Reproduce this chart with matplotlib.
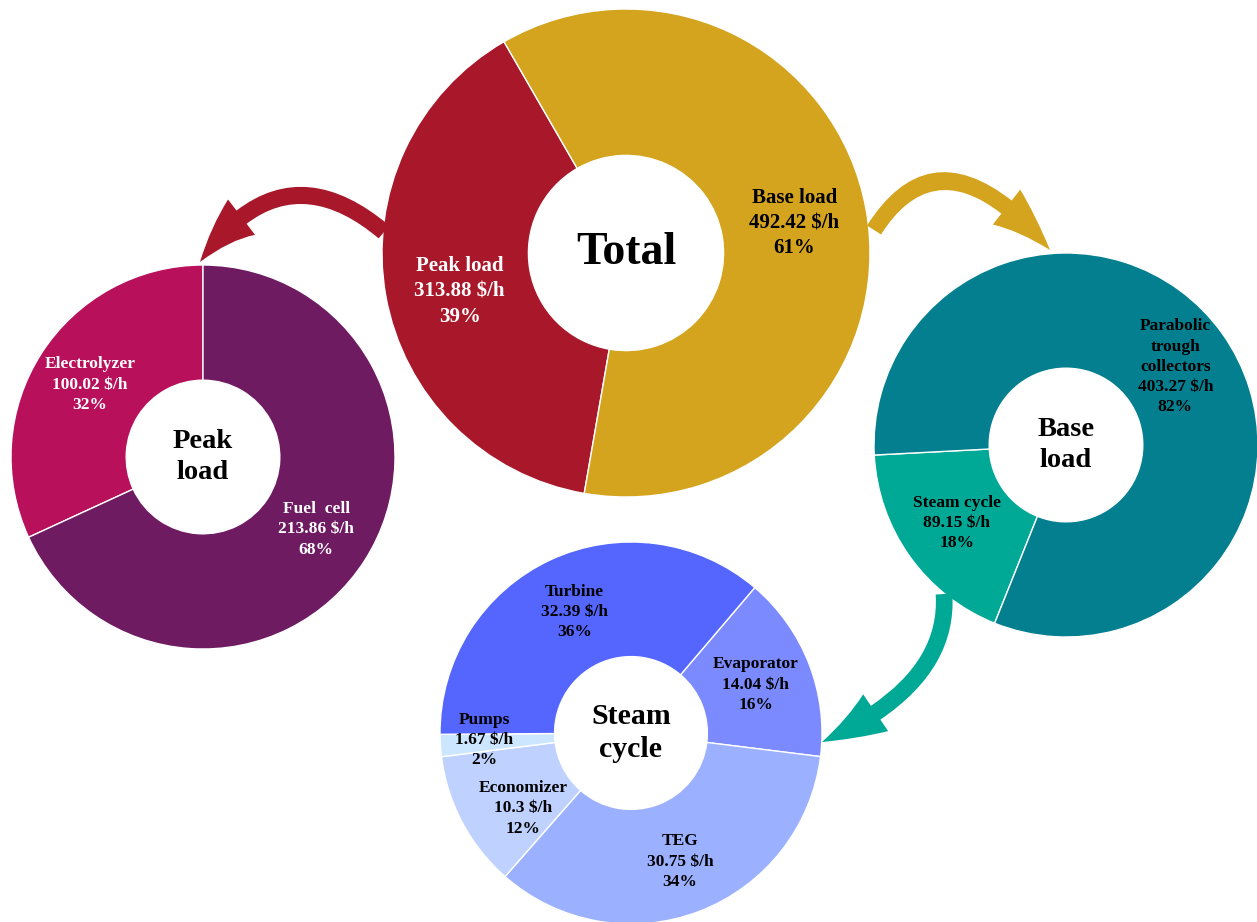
import matplotlib
matplotlib.use('Agg')
import matplotlib.pyplot as plt
import numpy as np
from matplotlib.patches import FancyArrowPatch
from matplotlib.path import Path

# cost breakdown, $/h
total_names = ['Peak load', 'Base load']
total_costs = [313.88, 492.42]
total_colors = ['#A8172A', '#D4A41F']

peak_names = ['Electrolyzer', 'Fuel  cell']
peak_costs = [100.02, 213.86]
peak_colors = ['#B8105A', '#6E1B62']

base_names = ['Steam cycle', 'Parabolic\ntrough\ncollectors']
base_costs = [89.15, 403.27]
base_colors = ['#00A896', '#037F8F']

steam_names = ['Evaporator', 'TEG', 'Economizer', 'Pumps', 'Turbine']
steam_costs = [14.04, 30.75, 10.3, 1.67, 32.39]
steam_colors = ['#7B8BFF', '#9BB0FF', '#BFD2FF', '#CDE6FF', '#5566FF']

W, H = 1257, 922
FONT = 'Liberation Serif'

fig = plt.figure(figsize=(W / 100, H / 100), dpi=100)
ax = fig.add_axes([0, 0, 1, 1])


def donut(names, costs, colors, center, radius, start, ccw, title,
          text_colors, size, title_size, gap, dists=None):
    cx, cy = center[0], H - center[1]
    wedges, _ = ax.pie(costs, colors=colors, startangle=start, counterclock=ccw,
                       center=(cx, cy), radius=radius,
                       wedgeprops=dict(width=radius * 0.6, edgecolor='white', linewidth=1))
    total = sum(costs)
    if dists is None:
        dists = [(0.70, 0)] * len(costs)
    for w, name, cost, tc, (d, shift) in zip(wedges, names, costs, text_colors, dists):
        mid = np.deg2rad((w.theta1 + w.theta2) / 2 + shift)
        x = cx + d * radius * np.cos(mid)
        y = cy + d * radius * np.sin(mid)
        label = f'{name}\n{cost:g} $/h\n{100 * cost / total:.0f}%'
        ax.text(x, y, label, ha='center', va='center', color=tc, fontsize=size,
                fontweight='bold', family=FONT, linespacing=gap)
    ax.text(cx, cy, title, ha='center', va='center', fontsize=title_size,
            fontweight='bold', family=FONT, linespacing=1.3)


donut(total_names, total_costs, total_colors, (626, 253), 244, 120, True,
      'Total', ['white', 'black'], 15, 33, 1.35,
      dists=[(0.70, 3), (0.70, 0)])
donut(peak_names, peak_costs, peak_colors, (203, 457), 192, 90, True,
      'Peak\nload', ['white', 'white'], 12.5, 20.5, 1.35)
donut(base_names, base_costs, base_colors, (1066, 445), 192, 183, True,
      'Base\nload', ['black', 'black'], 12.5, 20.5, 1.35)
donut(steam_names, steam_costs, steam_colors, (631, 733), 191, 49.6, False,
      'Steam\ncycle', ['black'] * 5, 12.5, 21.5, 1.35,
      dists=[(0.70, 0), (0.72, 0), (0.69, 7), (0.77, -1), (0.70, 0)])


# curved arrows between the donuts (quadratic bezier: tail, control, tip)
def curved_arrow(p0, p1, p2, color):
    pts = [(x, H - y) for x, y in (p0, p1, p2)]
    path = Path(pts, [Path.MOVETO, Path.CURVE3, Path.CURVE3])
    arr = FancyArrowPatch(path=path,
                          arrowstyle='simple,head_length=44,head_width=32,tail_width=12',
                          mutation_scale=1, color=color, lw=0)
    ax.add_patch(arr)


curved_arrow((384, 232), (282, 146), (200, 262), '#A8172A')
curved_arrow((874, 230), (942, 123), (1050, 250), '#D4A41F')
curved_arrow((944, 594), (950, 685), (822, 742), '#00A896')

ax.set_xlim(0, W)
ax.set_ylim(0, H)
ax.set_aspect('equal')
ax.axis('off')

fig.savefig('out.png', dpi=100)
